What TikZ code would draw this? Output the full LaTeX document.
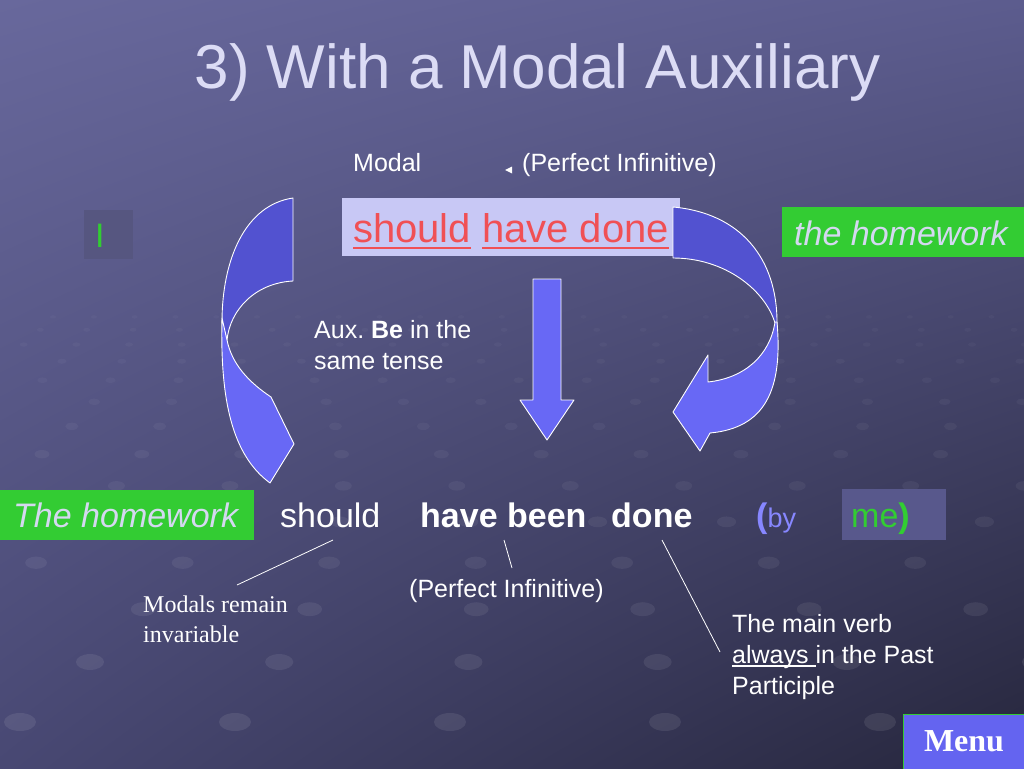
\documentclass[tikz,border=0pt]{standalone}
\usepackage{fontspec}
\setmainfont{Liberation Sans}
\newfontfamily\seriffont{Liberation Serif}
\usetikzlibrary{shadings}
\frenchspacing
\newcommand\ulbox[3]{\setbox0=\hbox{#3}\rlap{\rule[-#1]{\wd0}{#2}}\box0\relax}
\definecolor{bgTL}{RGB}{104,104,156}
\definecolor{bgTR}{RGB}{92,92,142}
\definecolor{bgBL}{RGB}{72,72,115}
\definecolor{bgBR}{RGB}{38,38,60}
\definecolor{titlecol}{RGB}{220,220,245}
\definecolor{boxlav}{RGB}{200,200,245}
\definecolor{redtxt}{RGB}{240,80,85}
\definecolor{greenbox}{RGB}{51,204,51}
\definecolor{italtxt}{RGB}{212,216,240}
\definecolor{darkbox}{RGB}{86,86,128}
\definecolor{mebox}{RGB}{88,88,140}
\definecolor{arrowdark}{RGB}{82,82,208}
\definecolor{arrowlight}{RGB}{104,104,245}
\definecolor{bycol}{RGB}{135,135,255}
\definecolor{megreen}{RGB}{50,205,50}
\definecolor{menucol}{RGB}{100,100,240}
\begin{document}
\begin{tikzpicture}[x=1pt,y=-1pt,
  txt/.style={inner sep=0pt, text=white, font=\fontsize{25}{31}\selectfont},
  big/.style={inner sep=0pt, text=white, font=\fontsize{34}{40}\selectfont},
  serifnote/.style={inner sep=0pt, text=white, font=\seriffont\fontsize{24}{30}\selectfont},
  panel/.style={draw=none, inner sep=0pt, anchor=north west},
  arrowdk/.style={fill=arrowdark, draw=white, line width=0.9pt, line join=round},
  arrowlt/.style={fill=arrowlight, draw=white, line width=0.9pt, line join=round},
  pointer/.style={draw=white, line width=0.8pt},
  bgdot/.style={fill=white}]
\useasboundingbox (0,0) rectangle (1024,768);
\shade[upper left=bgTL, upper right=bgTR, lower left=bgBL, lower right=bgBR] (0,0) rectangle (1024,768);

% background dot texture (perspective lattice)
\foreach \r in {0,...,13}{
  \pgfmathsetmacro\sc{0.88^\r}
  \pgfmathsetmacro\yy{722-500*(1-\sc)}
  \pgfmathsetmacro\dx{215*\sc}
  \pgfmathsetmacro\xo{mod(\r*0.37,1)*\dx+20}
  \pgfmathsetmacro\op{0.07*\sc+0.015}
  \pgfmathtruncatemacro\nn{1024/\dx+1}
  \foreach \k in {0,...,\nn}{
    \fill[bgdot, opacity=\op] ({\xo+\k*\dx},\yy) ellipse [x radius={16*\sc}, y radius={9*\sc}];
  }
}

% title
\node[anchor=base, inner sep=0pt, font=\fontsize{62}{70}\selectfont, text=titlecol] (title) at (537.5,88) {3) With a Modal Auxiliary};

% top labels
\node[txt, anchor=base west] (modal) at (353,171) {Modal};
\fill[white] (505,170) -- (512,166.5) -- (512,173.5) -- cycle;
\node[txt, anchor=base west] (pinftop) at (522,171) {(Perfect Infinitive)};

% top boxes
\node[panel, fill=boxlav, minimum width=338, minimum height=58] (shbox) at (342,198) {};
\node[inner sep=0pt, anchor=base west, text=redtxt, font=\fontsize{40}{48}\selectfont] (shd) at (353,242) {\ulbox{7.2pt}{2.4pt}{should} \ulbox{7.2pt}{2.4pt}{have done}};

\node[panel, fill=darkbox, minimum width=49, minimum height=49] (ibox) at (84,210) {};
\node[big, anchor=base west, text=megreen] (itext) at (95,247) {I};

\node[panel, fill=greenbox, minimum width=242, minimum height=50] (thbox) at (782,207) {};
\node[big, anchor=base west, text=italtxt, font=\fontsize{34}{40}\selectfont\itshape] (thtext) at (794,245) {the homework};

% middle note
\node[txt, anchor=north west, align=left] (aux) at (314,320) {Aux. \textbf{Be} in the\\same tense};

% bottom row
\node[panel, fill=greenbox, minimum width=254, minimum height=50] (hwbox) at (0,490) {};
\node[big, anchor=base west, text=italtxt, font=\fontsize{34}{40}\selectfont\itshape] (hwtext) at (13,527) {The homework};
\node[big, anchor=base west] (should) at (280,527) {should};
\node[big, anchor=base west, font=\fontsize{34}{40}\selectfont\bfseries] (hbeen) at (420,527) {have been};
\node[big, anchor=base west, font=\fontsize{34}{40}\selectfont\bfseries] (done) at (611,527) {done};
\node[big, anchor=base west, text=bycol] (by) at (756,527) {\textbf{(}{\fontsize{27}{30}\selectfont by}};
\node[panel, fill=mebox, minimum width=104, minimum height=51] (mebox) at (842,489) {};
\node[big, anchor=base west, text=megreen] (me) at (851,527) {me\textbf{)}};

% bottom notes
\node[serifnote, anchor=north west, align=left] (modalsnote) at (143,596) {Modals remain\\invariable};
\node[txt, anchor=base west] (pinfbot) at (409,597) {(Perfect Infinitive)};
\node[txt, anchor=north west, align=left] (mainverb) at (732,614) {The main verb\\\ulbox{3.4pt}{1.3pt}{always\ }in the Past\\Participle};

% menu
\node[panel, fill=menucol, draw=greenbox, line width=0.8pt, minimum width=122, minimum height=56] (menubox) at (903,714) {};
\node[inner sep=0pt, anchor=base, text=white, font=\seriffont\bfseries\fontsize{32}{36}\selectfont] (menu) at (964,751) {Menu};

% left curved arrow
\draw[arrowdk] (293,198) .. controls (245,205) and (222,260) .. (222,322)
  -- (227,340) .. controls (230,310) and (255,283) .. (293,281) -- cycle;
\draw[arrowlt] (222,318) .. controls (220,400) and (232,455) .. (270,483)
  -- (294,444) -- (271,397) .. controls (250,383) and (232,365) .. (227,340) -- cycle;

% right curved arrow
\draw[arrowdk] (673,207) .. controls (740,213) and (778,258) .. (777,325)
  -- (775,323) .. controls (765,290) and (725,258) .. (673,258) -- cycle;
\draw[arrowlt] (777,322) .. controls (783,390) and (765,428) .. (710,433)
  -- (700,451) -- (673,412) -- (708,355) -- (708,382)
  .. controls (745,378) and (770,355) .. (775,322) -- cycle;

% down arrow
\draw[arrowlt] (533,279) -- (561,279) -- (561,400) -- (574,400) -- (547,440) -- (520,400) -- (533,400) -- cycle;

% pointer lines
\coordinate (p1) at (237,585);
\coordinate (p2) at (512,568);
\coordinate (p3) at (720,652);
\draw[pointer] (333,540) -- (p1);
\draw[pointer] (504,540) -- (p2);
\draw[pointer] (662,540) -- (p3);
\end{tikzpicture}
\end{document}
